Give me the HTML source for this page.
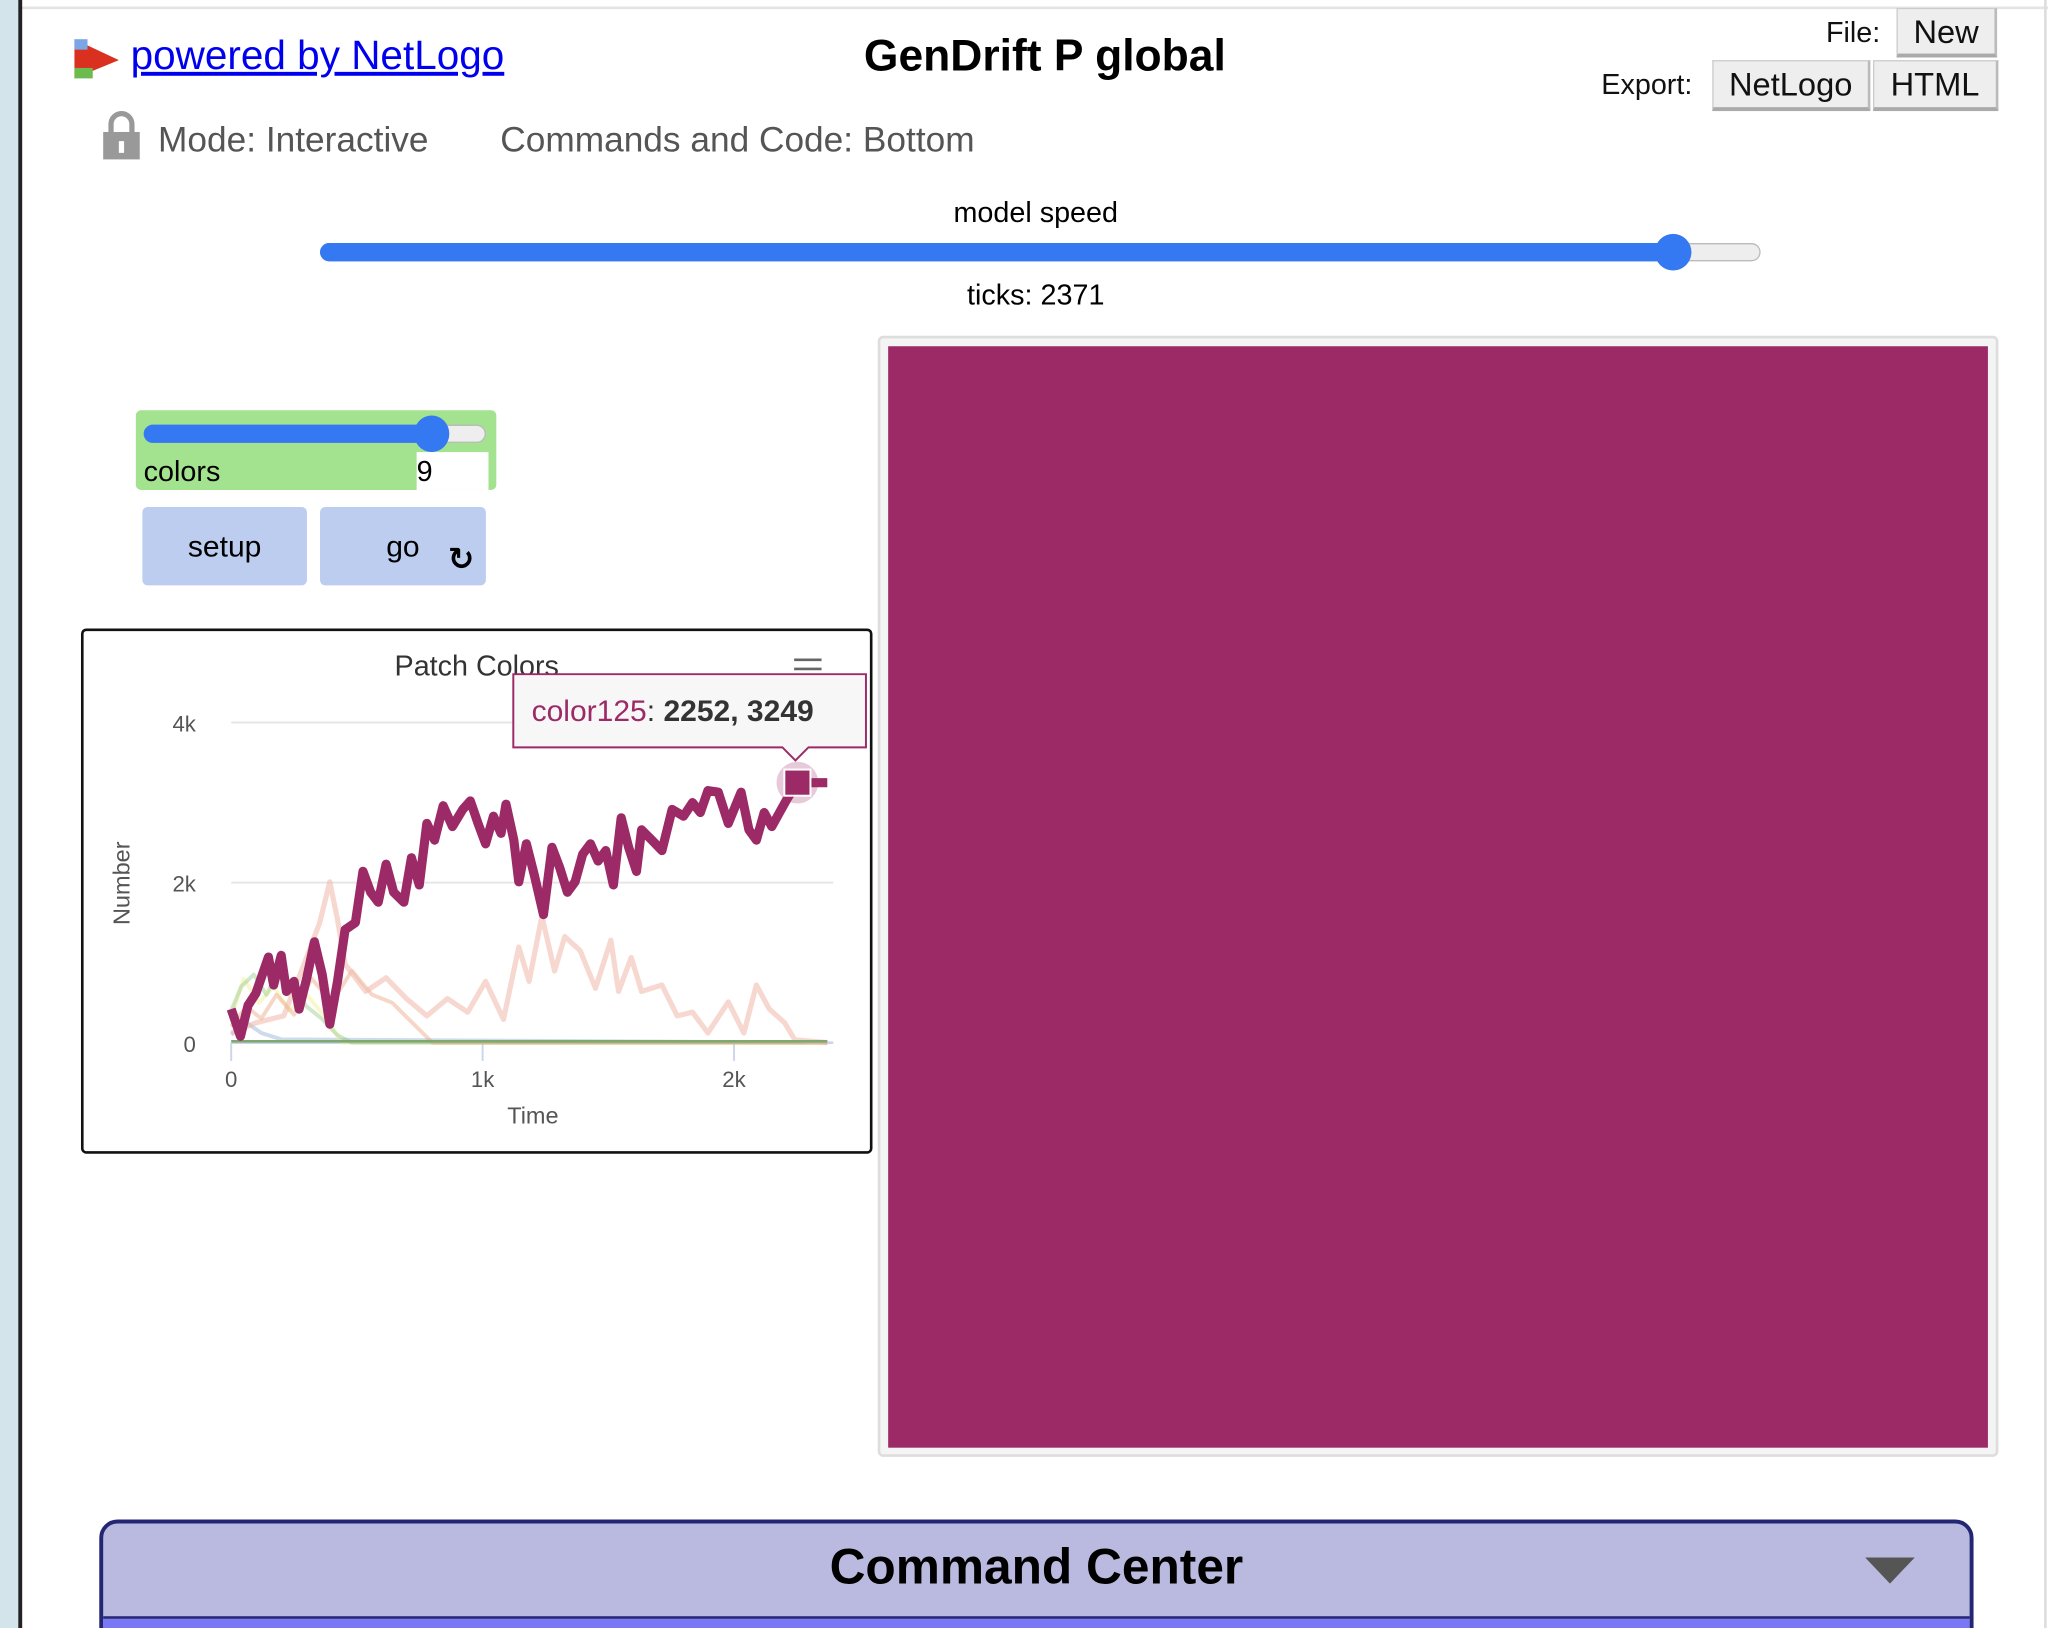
<!DOCTYPE html>
<html><head><meta charset="utf-8">
<style>
html,body{margin:0;padding:0;width:2048px;height:1628px;overflow:hidden;background:#fff;font-family:"Liberation Sans","DejaVu Sans",sans-serif;}
#wrap{position:absolute;left:0;top:0;width:1568px;height:1246px;overflow:hidden;transform:scale(1.30612,1.30658);transform-origin:0 0;}
.abs{position:absolute;}
.btn{position:absolute;background:#eee;border:1px solid #ccc;border-bottom:3px solid #aaa;border-right:2px solid #bbb;font-size:25px;color:#111;text-align:center;box-sizing:border-box;}
</style></head>
<body>
<div id="wrap">
  <div class="abs" style="left:0;top:5px;width:1568px;height:2px;background:#e4e4e4"></div>
  <div class="abs" style="left:0;top:0;width:14px;height:1246px;background:#d3e4ea"></div>
  <div class="abs" style="left:14px;top:0;width:3px;height:1246px;background:#222"></div>
  <div class="abs" style="left:1565px;top:0;width:2px;height:1246px;background:#ddd"></div>

  <svg class="abs" style="left:55px;top:28px" width="38" height="34"><polygon points="2,2 36,18 2,32" fill="#d9301f"/><rect x="2" y="24" width="14" height="8" fill="#6bbb4f"/><rect x="2" y="2" width="10" height="8" fill="#7aa6e6"/></svg>
  <a class="abs" style="left:100px;top:25px;font-size:31px;color:#0000ee;text-decoration:underline;">powered by NetLogo</a>
  <div class="abs" style="left:600px;top:24px;width:400px;text-align:center;font-size:34px;font-weight:bold;color:#000">GenDrift P global</div>

  <div class="abs" style="left:1398px;top:12px;font-size:22px;color:#111">File:</div>
  <div class="btn" style="left:1452px;top:6px;width:77px;height:38px;line-height:36px;">New</div>
  <div class="abs" style="left:1226px;top:52px;font-size:22px;color:#111">Export:</div>
  <div class="btn" style="left:1311px;top:46px;width:121px;height:39px;line-height:36px;">NetLogo</div>
  <div class="btn" style="left:1434px;top:46px;width:96px;height:39px;line-height:36px;">HTML</div>

  <svg class="abs" style="left:78px;top:84px" width="30" height="40"><path d="M7,18 V11 a8,8 0 0 1 16,0 V18" fill="none" stroke="#999" stroke-width="4"/><rect x="1" y="17" width="28" height="21" fill="#999"/><rect x="13" y="24" width="4" height="9" fill="#fff"/></svg>
  <div class="abs" style="left:121px;top:92px;font-size:27px;color:#555">Mode: Interactive</div>
  <div class="abs" style="left:383px;top:92px;font-size:27px;color:#555">Commands and Code: Bottom</div>

  <div class="abs" style="left:643px;top:150px;width:300px;text-align:center;font-size:22px;color:#000">model speed</div>
  <div class="abs" style="left:245px;top:186px;width:1103px;height:14px;border-radius:7px;background:#eee;border:1px solid #bbb;box-sizing:border-box"></div>
  <div class="abs" style="left:245px;top:186px;width:1040px;height:14px;border-radius:7px;background:#3478f2"></div>
  <div class="abs" style="left:1267px;top:179px;width:28px;height:28px;border-radius:50%;background:#3478f2"></div>
  <div class="abs" style="left:643px;top:213px;width:300px;text-align:center;font-size:22px;color:#000">ticks: 2371</div>

  <div class="abs" style="left:672px;top:257px;width:858px;height:858px;border:2px solid #ddd;border-radius:4px;box-sizing:border-box;background:#f4f4f4"></div>
  <div class="abs" style="left:680px;top:265px;width:842px;height:843px;background:#9b2a66"></div>

  <div class="abs" style="left:104px;top:314px;width:276px;height:61px;background:#a3e28f;border-radius:4px"></div>
  <div class="abs" style="left:110px;top:325px;width:262px;height:14px;border-radius:7px;background:#eee;border:1px solid #bbb;box-sizing:border-box"></div>
  <div class="abs" style="left:110px;top:325px;width:225px;height:14px;border-radius:7px;background:#3478f2"></div>
  <div class="abs" style="left:317px;top:318px;width:27px;height:28px;border-radius:50%;background:#3478f2"></div>
  <div class="abs" style="left:110px;top:348px;font-size:22px;color:#000">colors</div>
  <div class="abs" style="left:319px;top:346px;width:55px;height:29px;background:#fff;font-size:22px;line-height:29px;color:#000">9</div>

  <div class="abs" style="left:109px;top:388px;width:126px;height:60px;background:#bccdf0;border-radius:4px;text-align:center;line-height:60px;font-size:23px;color:#000">setup</div>
  <div class="abs" style="left:245px;top:388px;width:127px;height:60px;background:#bccdf0;border-radius:4px;text-align:center;line-height:60px;font-size:23px;color:#000">go</div>
  <div class="abs" style="left:343px;top:414px;font-size:24px;font-weight:bold;color:#000">&#x21BB;</div>

  <div class="abs" style="left:62px;top:481px;width:606px;height:402px;border:2px solid #111;border-radius:4px;box-sizing:border-box"></div>
  <svg class="abs" id="plot" style="left:0;top:0" width="700" height="900"></svg>

  <div class="abs" style="left:76px;top:1163px;width:1435px;height:120px;background:#babae0;border:3px solid #232673;border-radius:14px 14px 0 0;box-sizing:border-box"></div>
  <div class="abs" style="left:76px;top:1179px;width:1435px;text-align:center;font-size:38px;font-weight:bold;color:#000">Command Center</div>
  <svg class="abs" style="left:1428px;top:1190px" width="40" height="24"><polygon points="0,2 38,2 19,22" fill="#555"/></svg>
  <div class="abs" style="left:79px;top:1237px;width:1429px;height:2px;background:#232673"></div>
  <div class="abs" style="left:79px;top:1239px;width:1429px;height:30px;background:#7b78f5"></div>
</div>

<script>
const ticksX = [0, 1000, 2000];
const tickXLabels = ["0", "1k", "2k"];
const ticksY = [0, 2000, 4000];
const tickYLabels = ["0", "2k", "4k"];
const mainT = [0,37,67,98,148,169,199,220,250,270,301,331,362,392,423,453,494,524,555,585,616,646,687,717,748,778,809,843,880,921,951,982,1012,1043,1073,1093,1124,1144,1174,1205,1242,1276,1307,1337,1368,1398,1429,1459,1490,1520,1551,1581,1612,1632,1673,1713,1754,1799,1835,1866,1896,1937,1977,2028,2059,2089,2120,2150,2181,2211,2252,2371];
const mainV = [420,80,465,615,1070,720,1090,640,765,420,810,1260,850,230,765,1410,1500,2140,1880,1755,2230,1880,1755,2310,1970,2740,2530,2960,2700,2915,3020,2740,2485,2830,2615,2980,2530,2010,2485,2100,1600,2440,2185,1880,2010,2355,2485,2270,2400,1970,2810,2440,2140,2660,2530,2400,2915,2830,3000,2875,3150,3130,2740,3130,2660,2530,2875,2700,2875,3045,3249,3249];
const salmonT = [0,100,209,290,352,392,423,453,535,616,697,778,860,941,1012,1083,1144,1185,1236,1286,1327,1388,1449,1510,1541,1591,1632,1713,1774,1835,1896,1977,2039,2089,2140,2201,2242,2371];
const salmonV = [120,250,335,980,1500,2010,1540,980,640,810,550,335,550,380,765,290,1195,765,1580,895,1325,1150,680,1280,640,1065,640,720,335,380,120,510,120,720,420,250,35,0];
const orangeT = [0,60,120,180,250,320,400,480,560,640,720,800,2371];
const orangeV = [200,450,300,600,350,800,500,900,600,500,250,0,0];
const greenT = [0,40,90,140,190,240,300,360,420,480,2371];
const greenV = [400,700,850,600,900,700,450,300,100,0,0];
const yellowT = [0,50,110,170,230,300,380,440,2371];
const yellowV = [300,800,500,700,400,600,300,0,0];
const blueT = [0,60,120,200,2371];
const blueV = [100,250,120,40,0];
const hoverT = 2252, hoverV = 3249;

const svg = document.getElementById('plot');
const NS = 'http://www.w3.org/2000/svg';
const X0 = 177, PXK = 192.5, Y0 = 798, PYK = 61.25;
function xs(t){ return X0 + t / 1000 * PXK; }
function ys(v){ return Y0 - v / 1000 * PYK; }
function mk(tag, attrs){ const e = document.createElementNS(NS, tag); for (const k in attrs) e.setAttribute(k, attrs[k]); svg.appendChild(e); return e; }

ticksY.forEach((v, i) => {
  if (v > 0) {
    const g = mk('line', {x1: 177, x2: 638, y1: ys(v), y2: ys(v), stroke: '#e6e6e6', 'stroke-width': 1.5});
    
    
  }
  const t = mk('text', {x: 150, y: ys(v) + 7, 'text-anchor': 'end', 'font-size': 17, fill: '#555', 'font-family': 'Liberation Sans, sans-serif'});
  t.textContent = tickYLabels[i];
  
  
});
ticksX.forEach((v, i) => {
  const l = mk('line', {x1: xs(v), x2: xs(v), y1: 798, y2: 812, stroke: '#ccd6eb', 'stroke-width': 1.5});
  
  
  const t = mk('text', {x: xs(v), y: 832, 'text-anchor': 'middle', 'font-size': 17, fill: '#555', 'font-family': 'Liberation Sans, sans-serif'});
  t.textContent = tickXLabels[i];
  
  
});
const ax = mk('line', {x1: 177, x2: 638, y1: 798, y2: 798, stroke: '#ccd6eb', 'stroke-width': 2});



function series(T, V, color, w, op, name){
  const pts = T.map((t, i) => xs(t).toFixed(1) + ',' + ys(V[i]).toFixed(1)).join(' ');
  const p = mk('polyline', {points: pts, fill: 'none', stroke: color, 'stroke-width': w, 'stroke-opacity': op, 'stroke-linejoin': 'round'});
  
  
}
series(blueT, blueV, '#9bb8d8', 3, 0.5, 'series-blue');
series(yellowT, yellowV, '#eeee88', 3, 0.4, 'series-yellow');
series(greenT, greenV, '#8cc47a', 3, 0.4, 'series-green');
series(orangeT, orangeV, '#e89a74', 3, 0.4, 'series-orange');
series(salmonT, salmonV, '#f0b8aa', 4, 0.55, 'series-salmon');
const base = mk('line', {x1: 177, x2: xs(2371), y1: 797, y2: 797, stroke: '#7fa870', 'stroke-width': 2});


series(mainT, mainV, '#9b2a66', 7, 1, 'series-color125');

const halo = mk('circle', {cx: xs(hoverT), cy: ys(hoverV), r: 16, fill: '#9b2a66', 'fill-opacity': 0.25});


const sq = mk('rect', {x: xs(hoverT) - 10, y: ys(hoverV) - 10, width: 20, height: 20, fill: '#9b2a66', stroke: '#fff', 'stroke-width': 1.5});



const title = mk('text', {x: 365, y: 517, 'text-anchor': 'middle', 'font-size': 22, fill: '#333', 'font-family': 'Liberation Sans, sans-serif'});
title.textContent = 'Patch Colors';


[505, 512].forEach(y => {
  const h = mk('line', {x1: 608, x2: 629, y1: y, y2: y, stroke: '#666', 'stroke-width': 2});
  
  
});
const yt = mk('text', {x: 0, y: 0, 'text-anchor': 'middle', 'font-size': 18, fill: '#555', transform: 'translate(99,676) rotate(-90)', 'font-family': 'Liberation Sans, sans-serif'});
yt.textContent = 'Number';


const xt = mk('text', {x: 408, y: 860, 'text-anchor': 'middle', 'font-size': 18, fill: '#555', 'font-family': 'Liberation Sans, sans-serif'});
xt.textContent = 'Time';



const tip = mk('path', {d: 'M393,516 H663 V572 H619 L609,582 L599,572 H393 Z', fill: '#f7f7f7', stroke: '#9b2a66', 'stroke-width': 1.5});


const tt = mk('text', {x: 407, y: 552, 'font-size': 23, fill: '#333', 'font-family': 'Liberation Sans, sans-serif'});


const ts1 = document.createElementNS(NS, 'tspan'); ts1.setAttribute('fill', '#9b2a66'); ts1.textContent = 'color125'; tt.appendChild(ts1);
const ts2 = document.createElementNS(NS, 'tspan'); ts2.textContent = ': '; tt.appendChild(ts2);
const ts3 = document.createElementNS(NS, 'tspan'); ts3.setAttribute('font-weight', 'bold'); ts3.textContent = hoverT + ', ' + hoverV; tt.appendChild(ts3);
</script>
</body></html>
